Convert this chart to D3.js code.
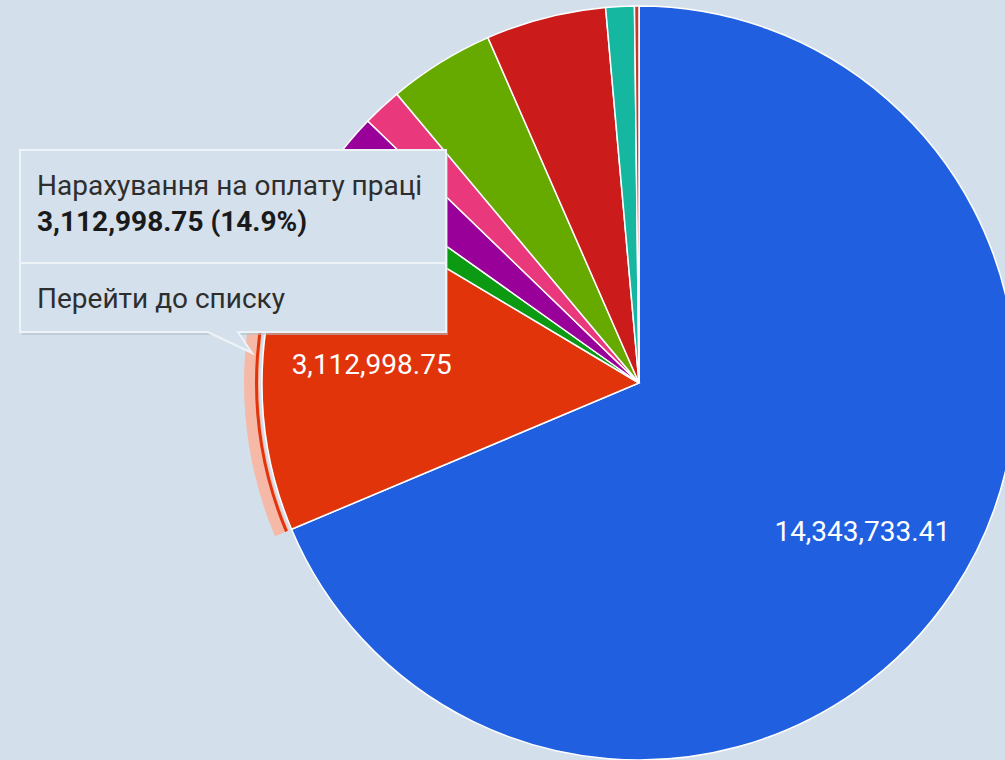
<!DOCTYPE html>
<html>
<head>
<meta charset="utf-8">
<script src="https://cdn.jsdelivr.net/npm/d3@7"></script>
<style>
  html, body { margin: 0; padding: 0; background: #d3e0ec; }
  svg { display: block; }
</style>
</head>
<body>
<svg id="chart" width="1005" height="760"></svg>
<script>
// ---- data ----
const categories = [
  "Оплата праці",
  "Нарахування на оплату праці",
  "Медикаменти та перев'язувальні матеріали",
  "Продукти харчування",
  "Оплата послуг (крім комунальних)",
  "Предмети, матеріали, обладнання та інвентар",
  "Оплата комунальних послуг та енергоносіїв",
  "Інші поточні видатки",
  "Видатки на відрядження"
];
const values = [14343733.41, 3112998.75, 267000, 499000, 349000, 949000, 1076000, 255000, 40000];
const colors = ["#1f5fe0", "#e2340a", "#0b9a12", "#990099", "#e9387b", "#66aa00", "#cc1b1b", "#15b7a0", "#c43a2c"];
const highlighted = 1;
const tooltipTitle = "Нарахування на оплату праці";
const tooltipValue = "3,112,998.75 (14.9%)";
const tooltipLink = "Перейти до списку";

// ---- layout ----
const W = 1005, H = 760;
const cx = 639, cy = 383, R = 377, labelR = 268;
const svg = d3.select("#chart");
svg.append("rect").attr("width", W).attr("height", H).attr("fill", "#d3e0ec");

const data = categories.map((c, i) => ({ name: c, value: values[i], color: colors[i], i }));
const total = d3.sum(values);
const pie = d3.pie().sort(null).value(d => d.value);
const arcs = pie(data);
const arc = d3.arc().innerRadius(0).outerRadius(R);
const labelArc = d3.arc().innerRadius(labelR).outerRadius(labelR);
const fmt = d3.format(",.2f");

const g = svg.append("g").attr("transform", `translate(${cx},${cy})`);

// highlight ring for hovered slice
const h = arcs[highlighted];
g.append("path")
  .attr("d", d3.arc().innerRadius(R + 3).outerRadius(R + 18)(h))
  .attr("fill", "#f6b9a7");
g.append("path")
  .attr("d", d3.arc().innerRadius(R + 4).outerRadius(R + 7)(h))
  .attr("fill", h.data.color);

g.selectAll("path.slice").data(arcs).enter().append("path")
  .attr("class", "slice")
  .attr("d", arc)
  .attr("fill", d => d.data.color)
  .attr("stroke", "#ffffff").attr("stroke-width", 1.5);

g.selectAll("text.lbl").data(arcs.filter(d => d.data.value / total > 0.1)).enter().append("text")
  .attr("class", "lbl")
  .attr("transform", d => `translate(${labelArc.centroid(d)})`)
  .attr("text-anchor", "middle").attr("dy", "0.36em")
  .attr("font-family", "Roboto, Arial, sans-serif").attr("font-size", 28)
  .attr("fill", "#ffffff")
  .text(d => fmt(d.data.value));

// ---- tooltip ----
const tt = svg.append("g");
const bx = 20, by = 150, bw = 426, bh = 182;
tt.append("rect").attr("x", bx + 2).attr("y", by + 3).attr("width", bw).attr("height", bh)
  .attr("fill", "#b4c0cc").attr("opacity", 0.6);
tt.append("path")
  .attr("d", `M${bx},${by}H${bx + bw}V${by + bh}H238L252,353L208,${by + bh}H${bx}Z`)
  .attr("fill", "#d4e0ec").attr("stroke", "#eef3f8").attr("stroke-width", 2);
tt.append("line").attr("x1", bx + 1).attr("x2", bx + bw - 1).attr("y1", 263).attr("y2", 263)
  .attr("stroke", "#eef3f8").attr("stroke-width", 2);
tt.append("text").attr("x", 37).attr("y", 195)
  .attr("font-family", "Roboto, Arial, sans-serif").attr("font-size", 28).attr("fill", "#2e2e2e")
  .text(tooltipTitle);
tt.append("text").attr("x", 37).attr("y", 231)
  .attr("font-family", "Roboto, Arial, sans-serif").attr("font-size", 28).attr("font-weight", "bold").attr("fill", "#1a1a1a")
  .text(tooltipValue);
tt.append("text").attr("x", 37).attr("y", 308)
  .attr("font-family", "Roboto, Arial, sans-serif").attr("font-size", 28).attr("fill", "#2e2e2e")
  .text(tooltipLink);
</script>
</body>
</html>
